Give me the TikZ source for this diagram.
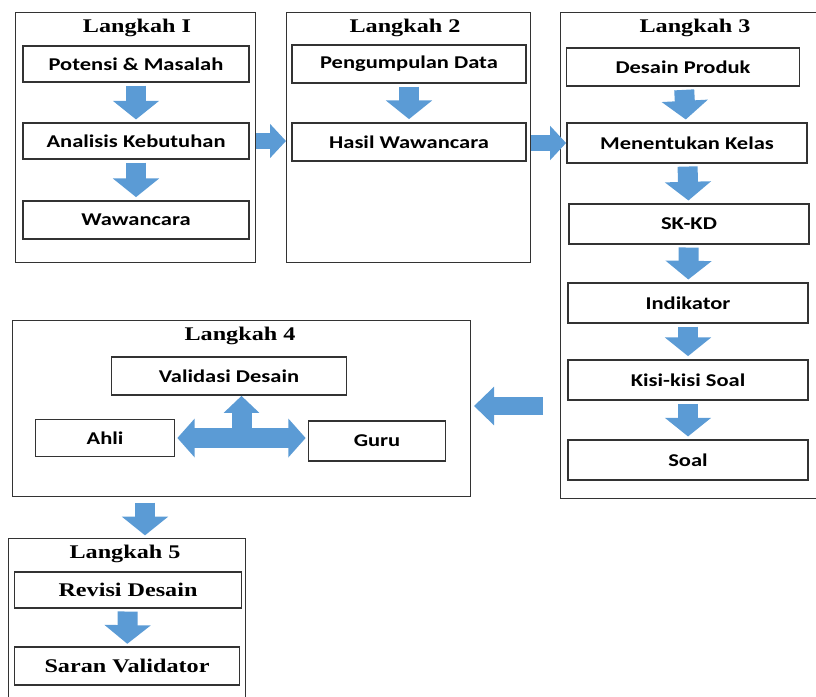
\documentclass[tikz,border=0pt]{standalone}
\usepackage{fontspec}
\setmainfont{Liberation Serif}
\newfontfamily\titlefont[FakeStretch=1.25]{Liberation Serif}
\newfontfamily\boxfont[FakeStretch=1.25]{Carlito}
\usetikzlibrary{arrows.meta, positioning, calc}

\definecolor{arrblue}{HTML}{5B9BD5}
\definecolor{edge}{HTML}{333333}

\tikzset{
    stage/.style={draw=edge, line width=1pt, inner sep=0pt},
    title/.style={font=\titlefont\bfseries\fontsize{14.5}{17}\selectfont, inner sep=0pt},
    item/.style={draw=edge, line width=1.3pt, inner sep=0pt, font=\boxfont\bfseries\fontsize{13.5}{16}\selectfont,
        minimum width=#1, minimum height=28.5pt},
    item/.default=175pt,
    serifitem/.style={item=#1, font=\titlefont\bfseries\fontsize{14.5}{17}\selectfont},
    blockdown/.style={arrblue, line width=15pt, -{Triangle[width=34pt,length=14pt]}, shorten <=2pt, shorten >=2pt},
    blockside/.style={arrblue, line width=12pt, -{Triangle[width=25pt,length=12pt]}},
    blockboth/.style={arrblue, line width=15pt, {Triangle[width=28.5pt,length=13pt]}-{Triangle[width=28.5pt,length=13pt]}, shorten <=1.5pt, shorten >=1.5pt}
}

\begin{document}
\begin{tikzpicture}[x=0.75pt, y=-0.75pt]
    \useasboundingbox (0,0) rectangle (816,696);

    % Langkah I
    \node[stage, anchor=north west, minimum width=180pt, minimum height=187.5pt] (L1) at (15,12) {};
    \node[title] (t1) at (137,28) {Langkah I};
    \node[item=169.5pt, minimum height=27pt] (pot) at (136,64) {Potensi \& Masalah};
    \node[item=169.5pt, minimum height=27pt] (ana) at (136,141) {Analisis Kebutuhan};
    \node[item=169.5pt, minimum height=29pt] (waw) at (136,220) {Wawancara};
    \draw[blockdown] (pot) -- (ana);
    \draw[blockdown] (ana) -- (waw);

    % Langkah 2
    \node[stage, anchor=north west, minimum width=183pt, minimum height=187.5pt] (L2) at (286,12) {};
    \node[title] (t2) at (405,28) {Langkah 2};
    \node[item] (data) at (409,64) {Pengumpulan Data};
    \node[item, minimum height=29pt] (hasil) at (409,142) {Hasil Wawancara};
    \draw[blockdown] (data) -- (hasil);

    % Langkah 3
    \node[stage, anchor=north west, minimum width=210pt, minimum height=364.5pt] (L3) at (560,12) {};
    \node[title] (t3) at (695,28) {Langkah 3};
    \node[item=174.75pt, minimum height=29pt] (produk) at (683,67) {Desain Produk};
    \node[item=180pt, minimum height=30pt] (kelas) at (687,143) {Menentukan Kelas};
    \node[item=180pt, minimum height=30pt] (skkd) at (689,224) {SK-KD};
    \node[item=180pt, minimum height=30pt] (indi) at (688,303) {Indikator};
    \node[item=180pt, minimum height=30.5pt] (kisi) at (688,380) {Kisi-kisi Soal};
    \node[item=180pt, minimum height=30pt] (soal) at (688,460) {Soal};
    \draw[blockdown] (produk) -- (kelas);
    \draw[blockdown] (kelas) -- (skkd);
    \draw[blockdown] (skkd) -- (indi);
    \draw[blockdown] (indi) -- (kisi);
    \draw[blockdown] (kisi) -- (soal);

    % Langkah 4
    \node[stage, anchor=north west, minimum width=343.5pt, minimum height=132pt] (L4) at (12,320) {};
    \node[title] (t4) at (240,336) {Langkah 4};
    \node[item=176.25pt] (valid) at (229,376) {Validasi Desain};
    \node[item=104.25pt, minimum height=27.75pt] (ahli) at (105,438) {Ahli};
    \node[item=102.75pt, minimum height=30pt] (guru) at (377,441) {Guru};
    \coordinate (mid) at ($(ahli.east)!0.5!(guru.west)$);
    \draw[blockboth] (ahli.east) -- (guru.west |- ahli.east);
    \draw[arrblue, line width=15pt, -{Triangle[width=26pt,length=12.75pt]}] ([yshift=-5pt]mid |- ahli.east) -- (mid |- valid.south);

    % Langkah 5
    \node[stage, anchor=north west, minimum width=177.75pt, minimum height=127.5pt] (L5) at (8,538) {};
    \node[title] (t5) at (125,554) {Langkah 5};
    \node[serifitem=170.25pt, minimum height=27pt] (revisi) at (128,590) {Revisi Desain};
    \node[serifitem=168.75pt, minimum height=28pt] (saran) at (127,666) {Saran Validator};
    \draw[blockdown] (revisi) -- (saran);

    % antar langkah
    \coordinate (c34) at (543,406);
    \coordinate (c45) at (145,496);
    \draw[blockside] (L1.east |- ana.east) -- (L2.west |- ana.east);
    \draw[blockside] (L2.east |- kelas.west) -- (kelas.west);
    \draw[blockside, line width=13pt, -{Triangle[width=28pt,length=15pt]}, shorten >=2pt] (c34) -- (L4.east |- c34);
    \draw[blockdown, shorten <=5pt] (c45) -- (c45 |- L5.north);
\end{tikzpicture}
\end{document}
